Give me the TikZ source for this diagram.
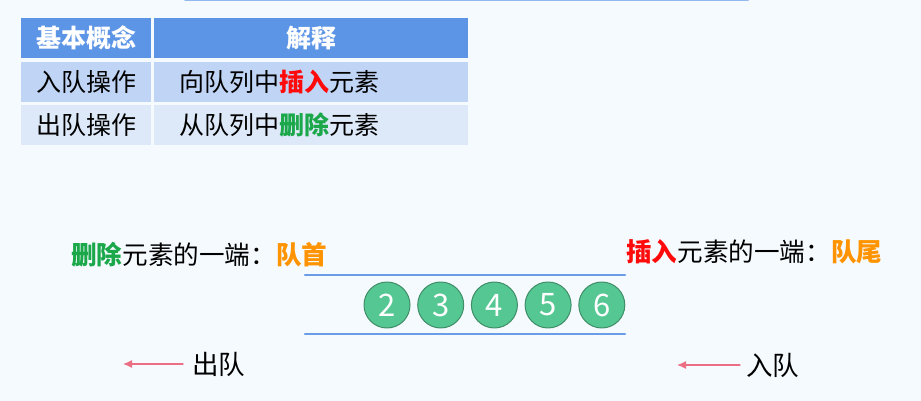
\documentclass[tikz,border=0pt]{standalone}
\usepackage{fontspec}
\setmainfont{Noto Sans CJK SC}
\usetikzlibrary{arrows.meta}

\definecolor{bgcol}{HTML}{F5FAFE}
\definecolor{hdrblue}{HTML}{5D95E6}
\definecolor{rowone}{HTML}{C0D5F5}
\definecolor{rowtwo}{HTML}{DDE8F8}
\definecolor{qline}{HTML}{6A9CE8}
\definecolor{topblue}{HTML}{93B8EE}
\definecolor{ballfill}{HTML}{55C792}
\definecolor{balldraw}{HTML}{3F8E68}
\definecolor{insred}{HTML}{FF0A0A}
\definecolor{delgreen}{HTML}{1BA84A}
\definecolor{endorange}{HTML}{FF9300}
\definecolor{arrowpink}{HTML}{EB6E85}

\begin{document}
\begin{tikzpicture}[x=1pt,y=-1pt, line cap=round,line join=round,
    cell/.style={anchor=north west, inner sep=0, minimum height=40},
    hdr/.style={cell, fill=hdrblue, text=white, font=\fontsize{25}{28}\selectfont\bfseries},
    txt/.style={font=\fontsize{25}{28}\selectfont, inner sep=0},
    ball/.style={circle, fill=ballfill, draw=balldraw, line width=1, minimum size=46, inner sep=0,
                 text=white, font=\fontsize{31}{34}\selectfont},
    qbar/.style={qline, line width=2.5},
    pinkarrow/.style={arrowpink, line width=1.3, -{Latex[length=9,width=8]}}]
    \fill[bgcol] (0,0) rectangle (921,401);
    \useasboundingbox (0,0) rectangle (921,401);
    \draw[topblue, line width=3] (185,0) -- (748,0);

    % table
    \node[hdr, minimum width=130] (h1) at (21,18) {基本概念};
    \node[hdr, minimum width=314] (h2) at (154,18) {解释};
    \node[cell, fill=rowone, minimum width=130] (r1) at (21,62) {};
    \node[cell, fill=rowone, minimum width=314] (s1) at (154,62) {};
    \node[cell, fill=rowtwo, minimum width=130] (r2) at (21,105) {};
    \node[cell, fill=rowtwo, minimum width=314] (s2) at (154,105) {};
    \node[txt] at (r1.center) {入队操作};
    \node[txt] at (r2.center) {出队操作};
    \node[txt, anchor=west] at (179,82) {向队列中{\bfseries\color{insred}插入}元素};
    \node[txt, anchor=west] at (179,125) {从队列中{\bfseries\color{delgreen}删除}元素};

    % queue
    \draw[qbar] (305,275) -- (625,275);
    \draw[qbar] (305,334) -- (625,334);
    \foreach \v [count=\i] in {2,...,6}
        \node[ball] (b\v) at (387+53.7*\i-53.7,305) {\v};

    \node[txt, anchor=west, font=\fontsize{25.6}{28}\selectfont] (front) at (71,255)
        {{\bfseries\color{delgreen}删除}元素的一端：{\bfseries\color{endorange}队首}};
    \node[txt, anchor=west, font=\fontsize{25.6}{28}\selectfont] (rear) at (626,252)
        {{\bfseries\color{insred}插入}元素的一端：{\bfseries\color{endorange}队尾}};

    % enqueue / dequeue
    \node[txt, anchor=west, font=\fontsize{26.5}{29}\selectfont] (deq) at (192,364) {出队};
    \node[txt, anchor=west, font=\fontsize{26.5}{29}\selectfont] (enq) at (746,365) {入队};
    \coordinate (deqend) at (123,364);
    \coordinate (enqend) at (677,365);
    \draw[pinkarrow] ([xshift=-9]deq.west) -- (deqend);
    \draw[pinkarrow] ([xshift=-6]enq.west) -- (enqend);
\end{tikzpicture}
\end{document}
